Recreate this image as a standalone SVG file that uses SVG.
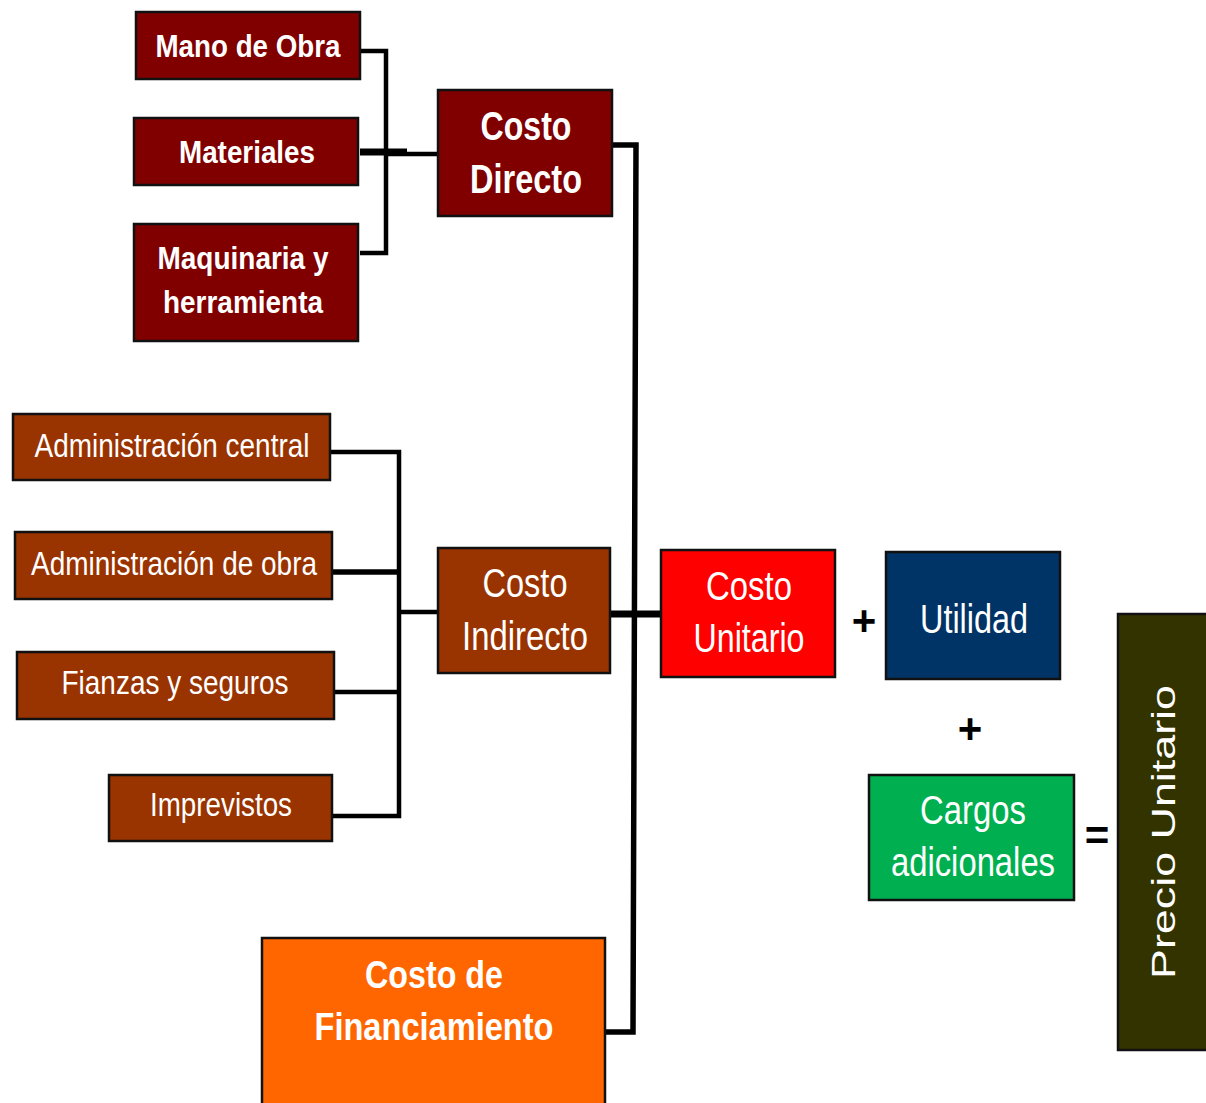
<svg xmlns="http://www.w3.org/2000/svg" width="1206" height="1103" viewBox="0 0 1206 1103">
<style>
.box{stroke:#111;stroke-width:2.5}
.t{font-family:"Liberation Sans",Arial,sans-serif;fill:#fff;text-anchor:middle}
.b{font-weight:bold}
.op{font-family:"Liberation Sans",Arial,sans-serif;fill:#000;text-anchor:middle;font-size:42px}
.c{fill:none;stroke:#000;stroke-width:4.5;stroke-linejoin:miter}
</style>
<rect width="1206" height="1103" fill="#fff"/>
<g id="connectors">
<polyline class="c" points="360,51 386,51 386,253 360,253"/>
<line class="c" x1="360" y1="152" x2="407" y2="152" style="stroke-width:7"/>
<line class="c" x1="386" y1="154" x2="446" y2="154"/>
<polyline class="c" points="612,145 636,145 633,1032 605,1032" style="stroke-width:5.5"/>
<line class="c" x1="610" y1="614" x2="660" y2="614" style="stroke-width:7"/>
<polyline class="c" points="330,452 399,452 399,816 332,816"/>
<line class="c" x1="332" y1="572" x2="399" y2="572" style="stroke-width:5.5"/>
<line class="c" x1="334" y1="692" x2="399" y2="692"/>
<line class="c" x1="399" y1="612" x2="438" y2="612"/>
</g>
<g id="mano-de-obra">
<rect class="box" x="136" y="12" width="224" height="67" fill="#800000"/>
<text class="t b" x="248" y="57" font-size="32" textLength="185" lengthAdjust="spacingAndGlyphs">Mano de Obra</text>
</g>
<g id="materiales">
<rect class="box" x="134" y="118" width="224" height="67" fill="#800000"/>
<text class="t b" x="247" y="163" font-size="32" textLength="136" lengthAdjust="spacingAndGlyphs">Materiales</text>
</g>
<g id="maquinaria">
<rect class="box" x="134" y="224" width="224" height="117" fill="#800000"/>
<text class="t b" x="243" y="269" font-size="32" textLength="171" lengthAdjust="spacingAndGlyphs">Maquinaria y</text>
<text class="t b" x="243" y="313" font-size="32" textLength="160" lengthAdjust="spacingAndGlyphs">herramienta</text>
</g>
<g id="costo-directo">
<rect class="box" x="438" y="90" width="174" height="126" fill="#800000"/>
<text class="t b" x="526" y="140" font-size="40" textLength="91" lengthAdjust="spacingAndGlyphs">Costo</text>
<text class="t b" x="526" y="193" font-size="40" textLength="112" lengthAdjust="spacingAndGlyphs">Directo</text>
</g>
<g id="admin-central">
<rect class="box" x="13" y="414" width="317" height="66" fill="#993300"/>
<text class="t" x="172" y="457" font-size="33" textLength="275" lengthAdjust="spacingAndGlyphs">Administración central</text>
</g>
<g id="admin-obra">
<rect class="box" x="15" y="532" width="317" height="67" fill="#993300"/>
<text class="t" x="174" y="575" font-size="33" textLength="286" lengthAdjust="spacingAndGlyphs">Administración de obra</text>
</g>
<g id="fianzas">
<rect class="box" x="17" y="652" width="317" height="67" fill="#993300"/>
<text class="t" x="175" y="694" font-size="33" textLength="227" lengthAdjust="spacingAndGlyphs">Fianzas y seguros</text>
</g>
<g id="imprevistos">
<rect class="box" x="109" y="775" width="223" height="66" fill="#993300"/>
<text class="t" x="221" y="816" font-size="33" textLength="142" lengthAdjust="spacingAndGlyphs">Imprevistos</text>
</g>
<g id="costo-indirecto">
<rect class="box" x="438" y="548" width="172" height="125" fill="#993300"/>
<text class="t" x="525" y="597" font-size="41" textLength="85" lengthAdjust="spacingAndGlyphs">Costo</text>
<text class="t" x="525" y="650" font-size="41" textLength="126" lengthAdjust="spacingAndGlyphs">Indirecto</text>
</g>
<g id="costo-unitario">
<rect class="box" x="661" y="550" width="174" height="127" fill="#ff0000"/>
<text class="t" x="749" y="600" font-size="41" textLength="86" lengthAdjust="spacingAndGlyphs">Costo</text>
<text class="t" x="749" y="652" font-size="41" textLength="111" lengthAdjust="spacingAndGlyphs">Unitario</text>
</g>
<text class="op" x="864" y="635" style="font-weight:bold">+</text>
<g id="utilidad">
<rect class="box" x="886" y="552" width="174" height="127" fill="#003366"/>
<text class="t" x="974" y="633" font-size="41" textLength="108" lengthAdjust="spacingAndGlyphs">Utilidad</text>
</g>
<text class="op" x="970" y="743" style="font-weight:bold">+</text>
<g id="cargos-adicionales">
<rect class="box" x="869" y="775" width="205" height="125" fill="#00b050"/>
<text class="t" x="973" y="824" font-size="41" textLength="106" lengthAdjust="spacingAndGlyphs">Cargos</text>
<text class="t" transform="translate(973,876) scale(0.8,1)" x="0" y="0" font-size="41">adicionales</text>
</g>
<text class="op" x="1097" y="850" style="font-weight:bold">=</text>
<g id="precio-unitario">
<rect class="box" x="1118" y="614" width="92" height="436" fill="#333300"/>
<text class="t" transform="rotate(-90)" x="-832" y="1175" font-size="34" textLength="294" lengthAdjust="spacingAndGlyphs">Precio Unitario</text>
</g>
<g id="costo-financiamiento">
<rect class="box" x="262" y="938" width="343" height="170" fill="#ff6600"/>
<text class="t b" x="434" y="988" font-size="38" textLength="138" lengthAdjust="spacingAndGlyphs">Costo de</text>
<text class="t b" x="434" y="1040" font-size="38" textLength="239" lengthAdjust="spacingAndGlyphs">Financiamiento</text>
</g>
</svg>
